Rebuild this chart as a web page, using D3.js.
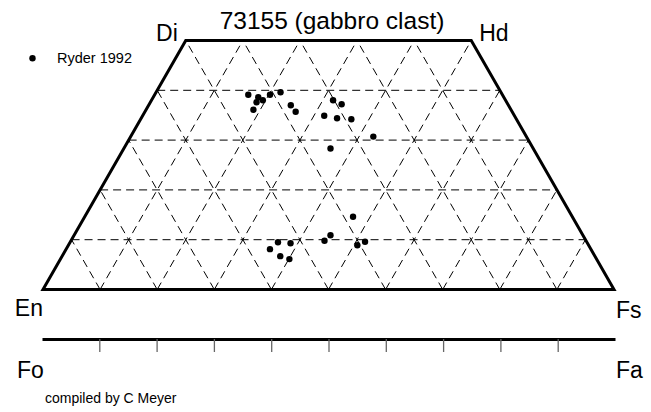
<!DOCTYPE html>
<html>
<head>
<meta charset="utf-8">
<script src="https://cdn.jsdelivr.net/npm/d3@7"></script>
<style>
  body { margin: 0; background: #fff; }
  svg { display: block; font-family: "Liberation Sans", Arial, sans-serif; }
</style>
</head>
<body>
<svg id="chart" width="651" height="412"></svg>
<script>
var chartTitle = "73155 (gabbro clast)";
var legendLabel = "Ryder 1992";
var creditLabel = "compiled by C Meyer";

// pyroxene corners: En, Fs, Hd, Di ; olivine ends: Fo, Fa
var pyxCorners = ["En", "Fs", "Hd", "Di"];
var olCorners = ["Fo", "Fa"];

// grid spacing (mol %)
var woSteps = [10, 20, 30, 40];
var gridSteps = [10, 20, 30, 40, 50, 60, 70, 80, 90];

// Ryder 1992 pyroxene analyses, Wo and Fs in mol %
var ryderWo = [39.1, 38.6, 39.1, 39.6, 37.6, 38.0, 36.1, 37.0, 35.7, 38.0, 37.2, 34.9, 34.4, 34.2, 30.7, 28.3,
               14.6, 9.5, 9.3, 8.1, 6.7, 6.1, 10.9, 9.8, 9.6, 8.9];
var ryderFs = [16.4, 18.4, 20.2, 21.8, 18.6, 19.5, 18.8, 24.9, 26.4, 31.8, 33.7, 31.8, 34.3, 36.9, 42.5, 36.2,
               47.0, 36.4, 38.7, 35.7, 38.2, 40.1, 44.9, 44.4, 51.6, 50.6];

window.onload = function() {

  var svg = d3.select("#chart");

  // horizontal position along En-Fs is Fs + Wo/2
  var x = d3.scaleLinear().domain([0, 100]).range([43, 614]);
  var y = d3.scaleLinear().domain([0, 50]).range([289.5, 40.5]);
  var xOl = d3.scaleLinear().domain([0, 100]).range([42, 615]);

  function pt(wo, fs) {
    return [x(fs + wo / 2), y(wo)];
  }

  var line = d3.line();

  // dashed ternary grid
  var grid = svg.append("g")
      .attr("fill", "none")
      .attr("stroke", "#000")
      .attr("stroke-width", 1)
      .attr("stroke-dasharray", "8,5");

  woSteps.forEach(function(w) {
    grid.append("path").attr("d", line([pt(w, 0), pt(w, 100 - w)]));
  });

  gridSteps.forEach(function(f) {
    // constant Fs, parallel to En-Di side
    var top = Math.min(50, 100 - f);
    grid.append("path").attr("d", line([pt(0, f), pt(top, f)]));
    // constant En, parallel to Fs-Hd side
    var fs0 = 100 - f;
    var top2 = Math.min(50, fs0);
    grid.append("path").attr("d", line([pt(0, fs0), pt(top2, fs0 - top2)]));
  });

  // quadrilateral outline
  var corners = [pt(0, 0), pt(0, 100), pt(50, 50), pt(50, 0)];
  svg.append("path")
      .attr("d", line(corners) + "Z")
      .attr("fill", "none")
      .attr("stroke", "#000")
      .attr("stroke-width", 3)
      .attr("stroke-linejoin", "miter");

  // data points
  svg.append("g").selectAll("circle")
      .data(ryderWo)
      .enter().append("circle")
        .attr("cx", function(d, i) { return pt(d, ryderFs[i])[0]; })
        .attr("cy", function(d) { return y(d); })
        .attr("r", 3.2)
        .attr("fill", "#000");

  // olivine line Fo-Fa
  var olAxis = svg.append("g")
      .attr("transform", "translate(0,339)")
      .call(d3.axisBottom(xOl).tickValues(gridSteps).tickSize(13).tickSizeOuter(0).tickFormat(""));
  olAxis.select(".domain").attr("stroke", "#000").attr("stroke-width", 3);
  olAxis.selectAll(".tick line").attr("stroke", "#666").attr("stroke-width", 1.3);

  // labels
  function label(txt, px, py, size, anchor) {
    svg.append("text")
        .attr("x", px)
        .attr("y", py)
        .attr("font-size", size)
        .attr("text-anchor", anchor || "start")
        .attr("fill", "#000")
        .text(txt);
  }

  label(chartTitle, 332, 29, 24.5, "middle");
  label(pyxCorners[3], corners[3][0] - 8, corners[3][1], 23, "end");
  label(pyxCorners[2], corners[2][0] + 8, corners[2][1], 23);
  label(pyxCorners[0], corners[0][0], corners[0][1] + 26, 23, "end");
  label(pyxCorners[1], corners[1][0] + 2, corners[1][1] + 28, 23);
  label(olCorners[0], xOl.range()[0] - 25, 378, 23);
  label(olCorners[1], xOl.range()[1] + 1, 378, 23);
  label(creditLabel, 45, 403, 14);

  // legend
  svg.append("circle").attr("cx", 32.5).attr("cy", 58.3).attr("r", 3.2).attr("fill", "#000");
  label(legendLabel, 57, 63, 14.5);
};
</script>
</body>
</html>
